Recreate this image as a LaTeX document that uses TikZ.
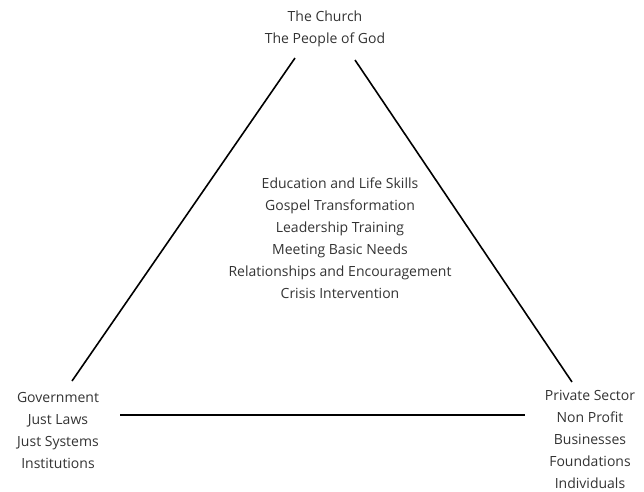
\documentclass[tikz,border=0pt]{standalone}
\usepackage{fontspec}
\setmainfont{Open Sans}
\definecolor{txt}{HTML}{333333}
\begin{document}
\begin{tikzpicture}[x=1pt,y=-1pt,
  lbl/.style={align=center,text=txt,font=\fontsize{14}{22}\selectfont,inner sep=0pt},
  edge/.style={draw=black,line width=1.6pt}]
\useasboundingbox (0,0) rectangle (644,491);
\node[lbl] (church) at (325,29) {The Church\\The People of God};
\node[lbl] (center) at (340,238) {Education and Life Skills\\Gospel Transformation\\Leadership Training\\Meeting Basic Needs\\Relationships and Encouragement\\Crisis Intervention};
\node[lbl] (gov) at (58,430) {Government\\Just Laws\\Just Systems\\Institutions};
\node[lbl] (priv) at (590,439) {Private Sector\\Non Profit\\Businesses\\Foundations\\Individuals};
\coordinate (lt) at (295,58);
\coordinate (lb) at (72,381);
\coordinate (rt) at (355,60);
\coordinate (rb) at (572,382);
\coordinate (bl) at (120,415);
\coordinate (br) at (525,415);
\draw[edge] (lt) -- (lb);
\draw[edge] (rt) -- (rb);
\draw[edge] (bl) -- (br);
\end{tikzpicture}
\end{document}
